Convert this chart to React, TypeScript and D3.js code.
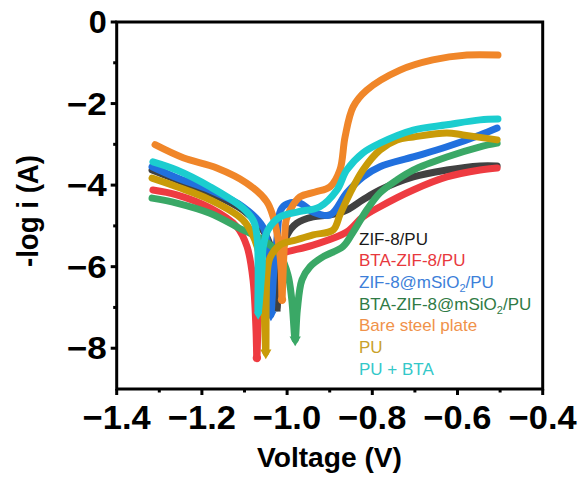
import React from "react";
import * as d3 from "d3";

// Tafel curves: [voltage (V), -log i (A)]
const zif8PU: [number, number][] = [
  [-1.317, -3.63], [-1.259, -3.87], [-1.181, -4.19], [-1.104, -4.61], [-1.057, -5.1],
  [-1.036, -5.59], [-1.026, -6.32], [-1.024, -7.01], [-1.019, -6.45], [-1.012, -5.71],
  [-1.0, -5.22], [-0.977, -4.93], [-0.939, -4.78], [-0.899, -4.73], [-0.86, -4.61],
  [-0.822, -4.36], [-0.782, -4.12], [-0.704, -3.8], [-0.625, -3.63], [-0.547, -3.53],
  [-0.507, -3.53],
];
const btaZif8PU: [number, number][] = [
  [-1.315, -4.12], [-1.259, -4.24], [-1.181, -4.56], [-1.118, -5.02], [-1.094, -5.51],
  [-1.08, -6.32], [-1.073, -7.55], [-1.071, -8.24], [-1.068, -7.3], [-1.064, -6.57],
  [-1.054, -6.08], [-1.04, -5.83], [-1.017, -5.69], [-0.939, -5.47], [-0.86, -5.15],
  [-0.822, -4.78], [-0.782, -4.53], [-0.704, -4.12], [-0.625, -3.8], [-0.547, -3.63],
  [-0.507, -3.58],
];
const zif8SiPU: [number, number][] = [
  [-1.317, -3.55], [-1.259, -3.82], [-1.181, -4.12], [-1.104, -4.53], [-1.057, -5.02],
  [-1.045, -5.47], [-1.04, -6.32], [-1.038, -7.18], [-1.031, -6.08], [-1.024, -5.34],
  [-1.015, -4.61], [-1.0, -4.46], [-0.97, -4.44], [-0.939, -4.66], [-0.899, -4.73],
  [-0.86, -4.19], [-0.822, -3.8], [-0.782, -3.55], [-0.704, -3.31], [-0.625, -3.06],
  [-0.547, -2.77], [-0.507, -2.6],
];
const btaZif8SiPU: [number, number][] = [
  [-1.317, -4.32], [-1.259, -4.44], [-1.181, -4.69], [-1.104, -5.1], [-1.057, -5.34],
  [-1.017, -5.71], [-0.998, -6.2], [-0.989, -6.81], [-0.981, -7.79], [-0.976, -7.06],
  [-0.965, -6.32], [-0.946, -6.0], [-0.916, -5.76], [-0.869, -5.51], [-0.846, -5.17],
  [-0.813, -4.61], [-0.782, -4.19], [-0.742, -3.87], [-0.704, -3.63], [-0.625, -3.31],
  [-0.547, -3.06], [-0.507, -2.97],
];
const bareSteel: [number, number][] = [
  [-1.31, -3.01], [-1.244, -3.33], [-1.165, -3.58], [-1.095, -3.95], [-1.048, -4.4],
  [-1.033, -4.77], [-1.021, -5.34], [-1.014, -6.08], [-1.012, -6.81], [-1.01, -6.32],
  [-1.007, -5.59], [-1.002, -4.85], [-0.993, -4.61], [-0.97, -4.29], [-0.934, -4.17],
  [-0.899, -4.04], [-0.876, -3.63], [-0.864, -2.82], [-0.845, -2.08], [-0.813, -1.67],
  [-0.735, -1.18], [-0.658, -0.93], [-0.578, -0.81], [-0.505, -0.81],
];
const pu: [number, number][] = [
  [-1.317, -3.83], [-1.259, -4.04], [-1.181, -4.36], [-1.104, -4.85], [-1.076, -5.34],
  [-1.059, -6.08], [-1.054, -7.06], [-1.05, -8.11], [-1.049, -6.81], [-1.047, -6.2],
  [-1.04, -5.78], [-1.017, -5.47], [-0.977, -5.34], [-0.939, -5.22], [-0.892, -5.1],
  [-0.876, -4.73], [-0.852, -4.19], [-0.822, -3.63], [-0.782, -3.14], [-0.742, -2.89],
  [-0.704, -2.82], [-0.625, -2.72], [-0.587, -2.77], [-0.507, -2.89],
];
const puBta: [number, number][] = [
  [-1.315, -3.43], [-1.259, -3.63], [-1.181, -4.04], [-1.104, -4.56], [-1.078, -4.9],
  [-1.07, -5.34], [-1.068, -6.08], [-1.068, -7.13], [-1.059, -6.08], [-1.056, -5.51],
  [-1.045, -5.1], [-1.017, -4.78], [-0.977, -4.66], [-0.923, -4.53], [-0.883, -4.12],
  [-0.86, -3.63], [-0.822, -3.21], [-0.782, -2.97], [-0.704, -2.65], [-0.625, -2.52],
  [-0.547, -2.4], [-0.505, -2.38],
];

const seriesNames = [
  "ZIF-8/PU",
  "BTA-ZIF-8/PU",
  "ZIF-8@mSiO2/PU",
  "BTA-ZIF-8@mSiO2/PU",
  "Bare steel plate",
  "PU",
  "PU + BTA",
];
const seriesData = [zif8PU, btaZif8PU, zif8SiPU, btaZif8SiPU, bareSteel, pu, puBta];
const lineColors = ["#414141", "#ee3b41", "#2170de", "#3aa866", "#f08629", "#c99b08", "#1bcdcf"];
const textColors = ["#1a1a1a", "#e8383d", "#3d7fd9", "#2f7a45", "#f0924a", "#c9a12a", "#33c8c9"];
const markerTypes = [d3.symbolSquare, d3.symbolCircle, d3.symbolTriangle, d3.symbolTriangle, d3.symbolCircle, d3.symbolTriangle, d3.symbolDiamond];

const xTicks = [-1.4, -1.2, -1.0, -0.8, -0.6, -0.4];
const yTicks = [0, -2, -4, -6, -8];
const xMinor = [-1.3, -1.1, -0.9, -0.7, -0.5];
const yMinor = [-1, -3, -5, -7];

const W = 584, H = 480;
const left = 116.7, right = 542.7, top = 22, bottom = 389;
const font = "'Liberation Sans', Arial, sans-serif";

export default function App() {
  if (typeof document !== "undefined") document.body.style.margin = "0";
  const x = d3.scaleLinear().domain([-1.4, -0.4]).range([left, right]);
  const y = d3.scaleLinear().domain([-9, 0]).range([bottom, top]);
  const line = d3.line<[number, number]>()
    .x(d => x(d[0]))
    .y(d => y(d[1]))
    .curve(d3.curveCatmullRom.alpha(0.5));
  const fmtY = (v: number) => (v === 0 ? "0" : "\u2212" + Math.abs(v));
  const fmtX = (v: number) => "\u2212" + Math.abs(v).toFixed(1);

  return (
    <svg width={W} height={H} style={{ display: "block", background: "#fff" }}>
      {seriesData.map((s, i) => {
        const mn = s.reduce((a, b) => (b[1] < a[1] ? b : a));
        const sym = d3.symbol().type(markerTypes[i]).size(55)();
        return (
          <g key={i}>
            <path d={line(s) || ""} fill="none" stroke={lineColors[i]} strokeWidth={7}
              strokeLinecap="round" strokeLinejoin="round" />
            <path d={sym || ""} fill={lineColors[i]}
              transform={`translate(${x(mn[0])},${y(mn[1])})${markerTypes[i] === d3.symbolTriangle ? " rotate(180)" : ""}`} />
          </g>
        );
      })}

      {/* frame */}
      <rect x={left} y={top} width={right - left} height={bottom - top} fill="none" stroke="#000" strokeWidth={3} />

      {/* y axis ticks */}
      {yTicks.map(t => (
        <g key={"y" + t}>
          <line x1={left - 6} x2={left} y1={y(t)} y2={y(t)} stroke="#000" strokeWidth={3} />
          <text x={left - 10} y={y(t)} dy="0.36em" textAnchor="end" fontFamily={font} fontWeight="bold"
            fontSize={31} textLength={t === 0 ? 18 : 40} lengthAdjust="spacingAndGlyphs">{fmtY(t)}</text>
        </g>
      ))}
      {yMinor.map(t => (
        <line key={"ym" + t} x1={left - 3.5} x2={left} y1={y(t)} y2={y(t)} stroke="#000" strokeWidth={3} />
      ))}

      {/* x axis ticks */}
      {xTicks.map(t => (
        <g key={"x" + t}>
          <line x1={x(t)} x2={x(t)} y1={bottom} y2={bottom + 6} stroke="#000" strokeWidth={3} />
          <text x={x(t)} y={bottom + 40} textAnchor="middle" fontFamily={font} fontWeight="bold"
            fontSize={34} textLength={68} lengthAdjust="spacingAndGlyphs">{fmtX(t)}</text>
        </g>
      ))}
      {xMinor.map(t => (
        <line key={"xm" + t} x1={x(t)} x2={x(t)} y1={bottom} y2={bottom + 3.5} stroke="#000" strokeWidth={3} />
      ))}

      {/* axis titles */}
      <text x={329.5} y={467} textAnchor="middle" fontFamily={font} fontWeight="bold"
        fontSize={28} textLength={145} lengthAdjust="spacingAndGlyphs">Voltage (V)</text>
      <text transform={`translate(38,211) rotate(-90)`} textAnchor="middle" fontFamily={font} fontWeight="bold"
        fontSize={30} textLength={112} lengthAdjust="spacingAndGlyphs">-log i (A)</text>

      {/* legend */}
      {seriesNames.map((n, i) => {
        const parts = n.split("SiO2");
        return (
          <text key={n} x={359} y={244.5 + i * 21.7} fontFamily={font} fontSize={17} fill={textColors[i]}>
            {parts.length > 1 ? (
              <>
                {parts[0]}SiO<tspan fontSize={11} dy={4}>2</tspan><tspan dy={-4}>{parts[1]}</tspan>
              </>
            ) : n}
          </text>
        );
      })}
    </svg>
  );
}
